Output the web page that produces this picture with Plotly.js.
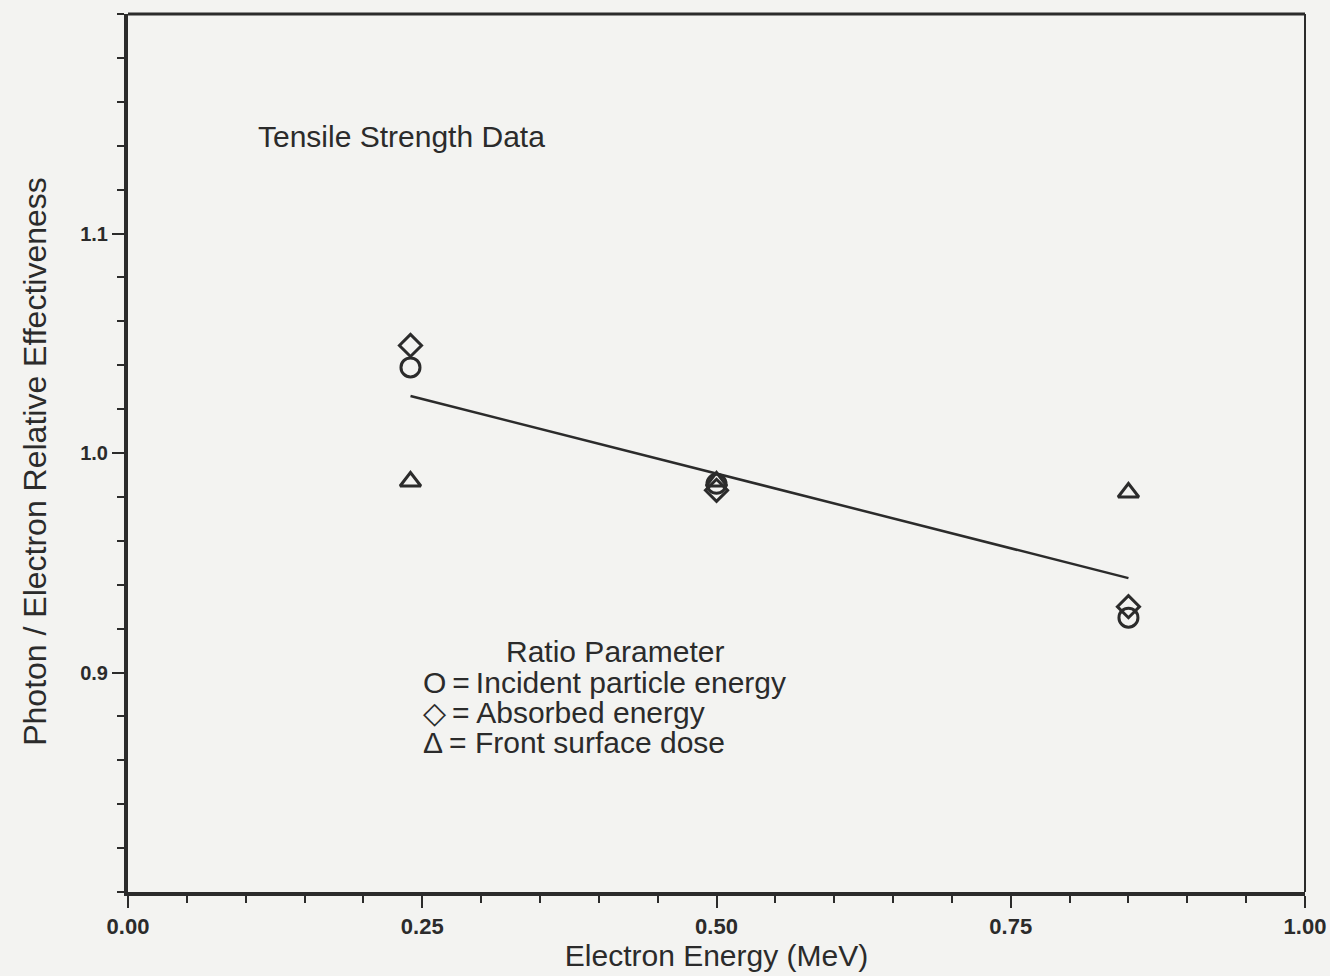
<!DOCTYPE html>
<html>
<head>
<meta charset="utf-8">
<script src="https://cdn.plot.ly/plotly-3.0.1.min.js"></script>
<style>
  html, body { margin: 0; padding: 0; background: #f3f3f1; }
  #chart { width: 1330px; height: 976px; }
</style>
</head>
<body>
<div id="chart"></div>
<script>
// ---- data ----
const energies = [0.24, 0.50, 0.85];
const incidentEnergy = [1.039, 0.986, 0.925];   // circles
const absorbedEnergy = [1.049, 0.983, 0.930];   // diamonds
const frontSurfaceDose = [0.987, 0.987, 0.982]; // triangles
const fitX = [0.24, 0.85];
const fitY = [1.026, 0.943];

const xTickVals = [0, 0.25, 0.5, 0.75, 1.0];
const xTickText = ['0.00', '0.25', '0.50', '0.75', '1.00'];
const yTickVals = [0.9, 1.0, 1.1];
const yTickText = ['0.9', '1.0', '1.1'];

const chartTitle = 'Tensile Strength Data';
const legendHeader = 'Ratio Parameter';
const legendLines = ['O\u2009=\u2009Incident particle energy', '\u25C7\u2009= Absorbed energy', '\u0394\u2009= Front surface dose'];
const xTitle = 'Electron Energy (MeV)';
const yTitle = 'Photon / Electron Relative Effectiveness';

// ---- styling ----
const ink = '#2b2b2b';
const font = '"Liberation Sans", Arial, sans-serif';

const yMinor = [];
for (let i = 0; i <= 20; i++) yMinor.push(+(0.8 + i * 0.02).toFixed(2));
const xMinor = [];
for (let i = 0; i <= 20; i++) xMinor.push(+(i * 0.05).toFixed(2));

const markerLine = { color: ink, width: 3 };
const traces = [
  { x: fitX, y: fitY, mode: 'lines', line: { color: ink, width: 2.5 }, hoverinfo: 'skip' },
  { x: energies, y: incidentEnergy, mode: 'markers', name: 'Incident particle energy',
    marker: { symbol: 'circle-open', size: 19, color: ink, line: markerLine } },
  { x: energies, y: absorbedEnergy, mode: 'markers', name: 'Absorbed energy',
    marker: { symbol: 'diamond-open', size: 17, color: ink, line: markerLine } },
  { x: energies, y: frontSurfaceDose, mode: 'markers', name: 'Front surface dose',
    marker: { symbol: 'triangle-up-open', size: 18, color: ink, line: markerLine } }
];

const annotations = [
  { text: chartTitle, xref: 'x', yref: 'y', x: 0.109, y: 1.144, xanchor: 'left', yanchor: 'middle',
    showarrow: false, font: { family: font, size: 30, color: ink } },
  { text: legendHeader, xref: 'x', yref: 'y', x: 0.414, y: 0.9095, xanchor: 'center', yanchor: 'middle',
    showarrow: false, font: { family: font, size: 30, color: ink } },
  { text: yTitle, xref: 'paper', yref: 'y', x: -0.079, y: 0.996, xanchor: 'center', yanchor: 'middle',
    textangle: -90, showarrow: false, font: { family: font, size: 32, color: ink } }
];
legendLines.forEach((t, i) => {
  annotations.push({ text: t, xref: 'x', yref: 'y', x: 0.249, y: 0.8953 - i * 0.0137,
    xanchor: 'left', yanchor: 'middle', showarrow: false,
    font: { family: font, size: 30, color: ink } });
});

const tickFontX = { family: font, size: 22, color: ink, weight: 'bold' };
const tickFontY = { family: font, size: 20, color: ink, weight: 'bold' };

const layout = {
  width: 1330, height: 976,
  margin: { l: 128, r: 25, t: 14, b: 84 },
  paper_bgcolor: '#f3f3f1', plot_bgcolor: '#f3f3f1',
  showlegend: false,
  font: { family: font, color: ink },
  xaxis: {
    range: [0, 1.0], showgrid: false, zeroline: false,
    showline: true, linecolor: ink, linewidth: 4,
    tickmode: 'array', tickvals: xTickVals, ticktext: xTickText,
    ticks: 'outside', ticklen: 12, tickwidth: 2, tickcolor: ink,
    tickfont: tickFontX,
    minor: { tickmode: 'array', tickvals: xMinor, ticks: 'outside', ticklen: 7, tickwidth: 2, tickcolor: ink },
    title: { text: xTitle, font: { family: font, size: 30, color: ink }, standoff: 8 }
  },
  yaxis: {
    range: [0.8, 1.2], showgrid: false, zeroline: false,
    showline: true, linecolor: ink, linewidth: 4,
    tickmode: 'array', tickvals: yTickVals, ticktext: yTickText,
    ticks: 'outside', ticklen: 12, tickwidth: 2, tickcolor: ink,
    tickfont: tickFontY,
    minor: { tickmode: 'array', tickvals: yMinor, ticks: 'outside', ticklen: 7, tickwidth: 2, tickcolor: ink }
  },
  shapes: [
    { type: 'line', xref: 'paper', yref: 'paper', x0: 0, x1: 1, y0: 1, y1: 1, line: { color: ink, width: 3 } },
    { type: 'line', xref: 'paper', yref: 'paper', x0: 1, x1: 1, y0: 0, y1: 1, line: { color: ink, width: 2 } }
  ],
  annotations: annotations
};

Plotly.newPlot('chart', traces, layout, { displayModeBar: false, staticPlot: true });
</script>
</body>
</html>
